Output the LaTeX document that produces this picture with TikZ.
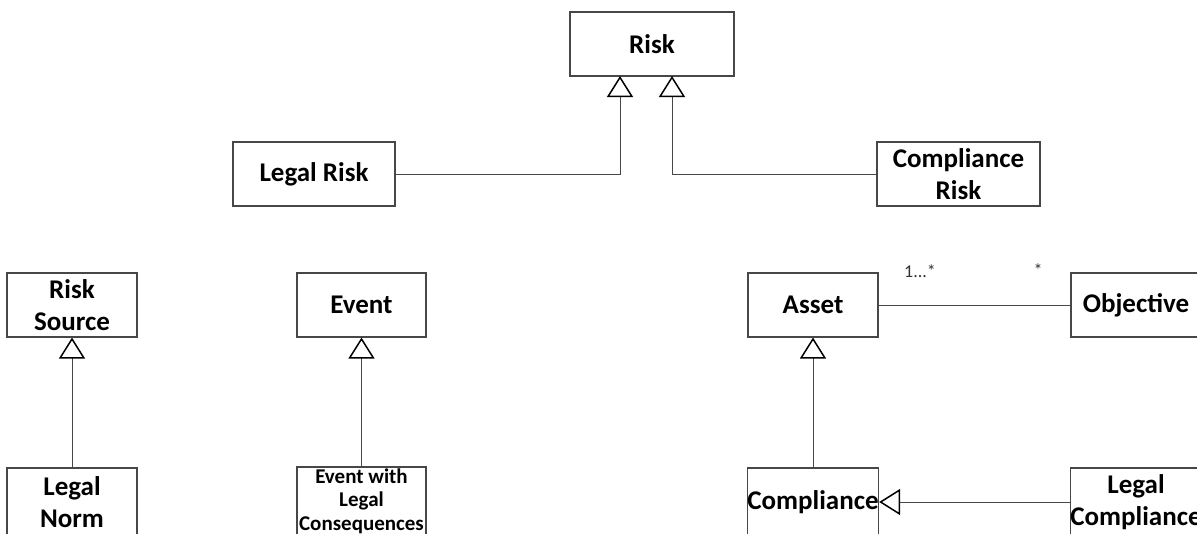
\documentclass[tikz,border=0pt]{standalone}
\usepackage{fontspec}
\setmainfont{Carlito}
\usetikzlibrary{arrows.meta}

\tikzset{
  cls/.style={draw=black!72, line width=1.1pt, fill=white, inner sep=0pt,
    align=center, font=\bfseries\fontsize{27}{32}\selectfont},
  clssmall/.style={cls, font=\bfseries\fontsize{21}{23.5}\selectfont},
  wire/.style={draw=black!72, line width=1pt},
  gen/.style={wire, -{Triangle[open, length=21pt, width=26pt, color=black, line width=1.5pt]}},
  mult/.style={font=\fontsize{18}{21}\selectfont, text=black!80, inner sep=0pt}
}

\begin{document}
\begin{tikzpicture}[x=1pt, y=-1pt]
  \useasboundingbox (0,0) rectangle (1197,533);
  \clip (0,0) rectangle (1197,533);

  % top hierarchy
  \node[cls, minimum width=164pt, minimum height=64pt] (risk) at (652,44) {Risk};
  \node[cls, minimum width=162pt, minimum height=64pt] (legalrisk) at (314,174) {Legal Risk};
  \node[cls, minimum width=163pt, minimum height=64pt] (comprisk) at (958.5,174) {Compliance\\Risk};
  \coordinate (riskL) at (620,76);
  \coordinate (riskR) at (672,76);
  \draw[gen] (legalrisk.east) -| (riskL);
  \draw[gen] (comprisk.west) -| (riskR);

  % risk source
  \node[cls, minimum width=130pt, minimum height=64pt] (risksource) at (72,305) {Risk\\Source};
  \node[cls, minimum width=130pt, minimum height=68pt] (legalnorm) at (72,502) {Legal\\Norm};
  \draw[gen] (legalnorm.north) -- (risksource.south);

  % event
  \node[cls, minimum width=129pt, minimum height=64pt] (event) at (361.5,305) {Event};
  \node[clssmall, minimum width=129pt, minimum height=68pt] (eventlegal) at (361.5,501) {Event with\\Legal\\Consequences};
  \draw[gen] (eventlegal.north) -- (event.south);

  % asset and compliance
  \node[cls, minimum width=130pt, minimum height=64pt] (asset) at (813,305) {Asset};
  \node[cls, minimum width=130pt, minimum height=64pt] (objective) at (1136,305) {Objective};
  \node[cls, minimum width=130pt, minimum height=68pt] (compliance) at (813,502) {Compliance};
  \node[cls, minimum width=130pt, minimum height=68pt] (legalcomp) at (1136,502) {Legal\\Compliance};
  \draw[wire] (asset.east) -- (objective.west);
  \node[mult] (multasset) at (920,271) {1...*};
  \node[mult] (multobj) at (1038,270) {*};
  \draw[gen] (compliance.north) -- (asset.south);
  \draw[gen] (legalcomp.west) -- (compliance.east);
\end{tikzpicture}
\end{document}
